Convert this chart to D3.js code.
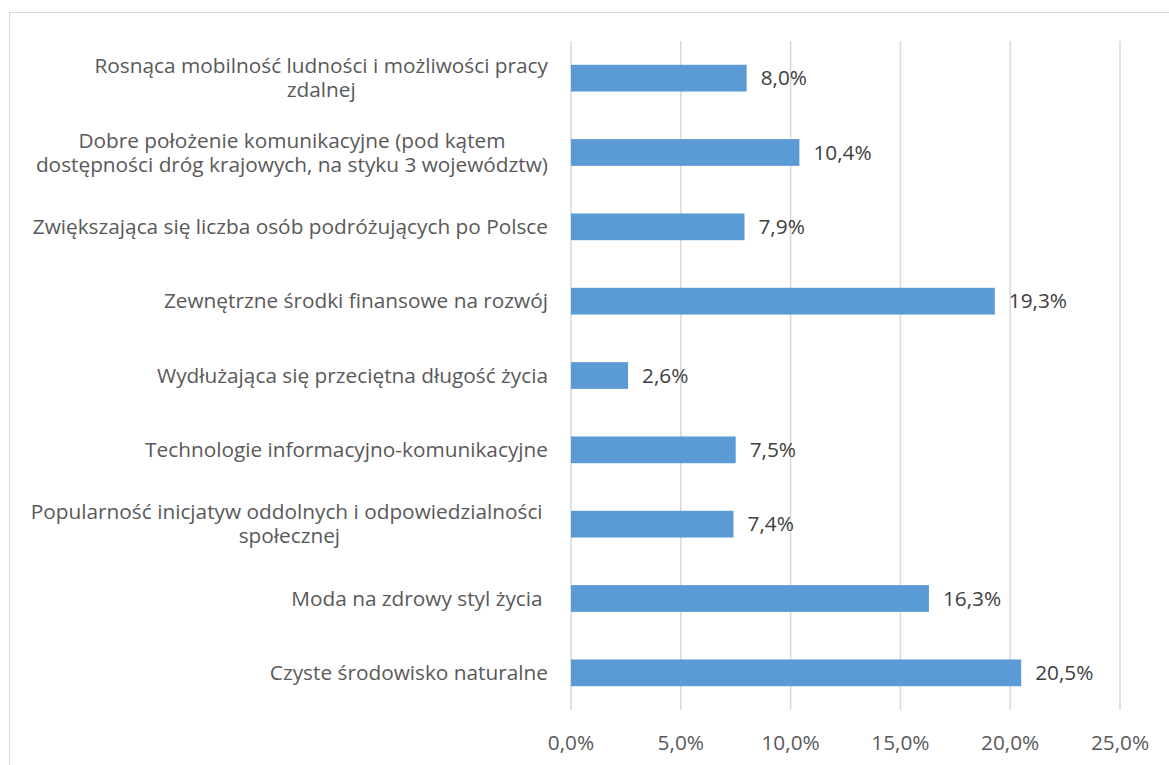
<!DOCTYPE html>
<html>
<head>
<meta charset="utf-8">
<script src="https://cdn.jsdelivr.net/npm/d3@7"></script>
<style>
  body { margin: 0; background: #fff; }
  svg text { font-family: "Open Sans", Lato, sans-serif; white-space: pre; }
</style>
</head>
<body>
<svg id="chart" width="1169" height="765"></svg>
<script>
// categories top to bottom (line breaks as wrapped in the original)
var categories = [
    "Rosnąca mobilność ludności i możliwości pracy\nzdalnej",
    "Dobre położenie komunikacyjne (pod kątem\ndostępności dróg krajowych, na styku 3 województw)",
    "Zwiększająca się liczba osób podróżujących po Polsce",
    "Zewnętrzne środki finansowe na rozwój",
    "Wydłużająca się przeciętna długość życia",
    "Technologie informacyjno-komunikacyjne",
    "Popularność inicjatyw oddolnych i odpowiedzialności \nspołecznej",
    "Moda na zdrowy styl życia ",
    "Czyste środowisko naturalne"
];
var values = [8.0, 10.4, 7.9, 19.3, 2.6, 7.5, 7.4, 16.3, 20.5];
var xTicks = [0, 5, 10, 15, 20, 25];

var svg = d3.select("#chart");

var locale = d3.formatLocale({ decimal: ",", thousands: " ", grouping: [3], currency: ["", ""] });
var fmt = locale.format(".1f");

// pick a font size so the longest one-line label is as wide as in the original (~515px)
var probe = svg.append("text").style("font-size", "20px").text(categories[2]);
var fs = 20 * 515 / probe.node().getComputedTextLength();
probe.remove();
fs = Math.round(fs * 10) / 10;

// chart frame (only top and left edges visible)
svg.append("rect")
    .attr("x", 9.5).attr("y", 12.5)
    .attr("width", 1200).attr("height", 800)
    .attr("fill", "#fff")
    .attr("stroke", "#d9d9d9")
    .attr("stroke-width", 1);

var x = d3.scaleLinear().domain([0, 25]).range([571, 1120]);
var y = d3.scaleBand().domain(categories).range([41, 710])
    .paddingInner(0.64).paddingOuter(0.32);

// gridlines
svg.selectAll("line.grid")
    .data(xTicks)
    .enter().append("line")
    .attr("class", "grid")
    .attr("x1", function (d) { return x(d); })
    .attr("x2", function (d) { return x(d); })
    .attr("y1", 41).attr("y2", 710)
    .attr("stroke", "#d9d9d9")
    .attr("stroke-width", 1.5);

// x tick labels
svg.selectAll("text.xtick")
    .data(xTicks)
    .enter().append("text")
    .attr("class", "xtick")
    .attr("x", function (d) { return x(d); })
    .attr("y", 750)
    .attr("text-anchor", "middle")
    .attr("fill", "#595959")
    .style("font-size", fs + "px")
    .text(function (d) { return fmt(d) + "%"; });

// bars
svg.selectAll("rect.bar")
    .data(values)
    .enter().append("rect")
    .attr("class", "bar")
    .attr("x", x(0))
    .attr("y", function (d, i) { return y(categories[i]); })
    .attr("width", function (d) { return x(d) - x(0); })
    .attr("height", y.bandwidth())
    .attr("fill", "#5b9bd5");

// value labels
svg.selectAll("text.val")
    .data(values)
    .enter().append("text")
    .attr("class", "val")
    .attr("x", function (d) { return x(d) + 14; })
    .attr("y", function (d, i) { return y(categories[i]) + y.bandwidth() / 2 + 7; })
    .attr("fill", "#404040")
    .style("font-size", fs + "px")
    .text(function (d) { return fmt(d) + "%"; });

// category labels: block right-aligned, wrapped lines centred
var labelRight = 548, lineH = 24;
categories.forEach(function (c) {
    var lines = c.split("\n");
    var cy = y(c) + y.bandwidth() / 2;
    var g = svg.append("g");
    var texts = lines.map(function (l, j) {
        return g.append("text")
            .attr("y", cy + 7 + (j - (lines.length - 1) / 2) * lineH)
            .attr("fill", "#595959")
            .style("font-size", fs + "px")
            .text(l);
    });
    var widths = texts.map(function (t) { return t.node().getComputedTextLength(); });
    var maxW = d3.max(widths);
    texts.forEach(function (t) {
        t.attr("x", labelRight - maxW / 2).attr("text-anchor", "middle");
    });
});
</script>
</body>
</html>
